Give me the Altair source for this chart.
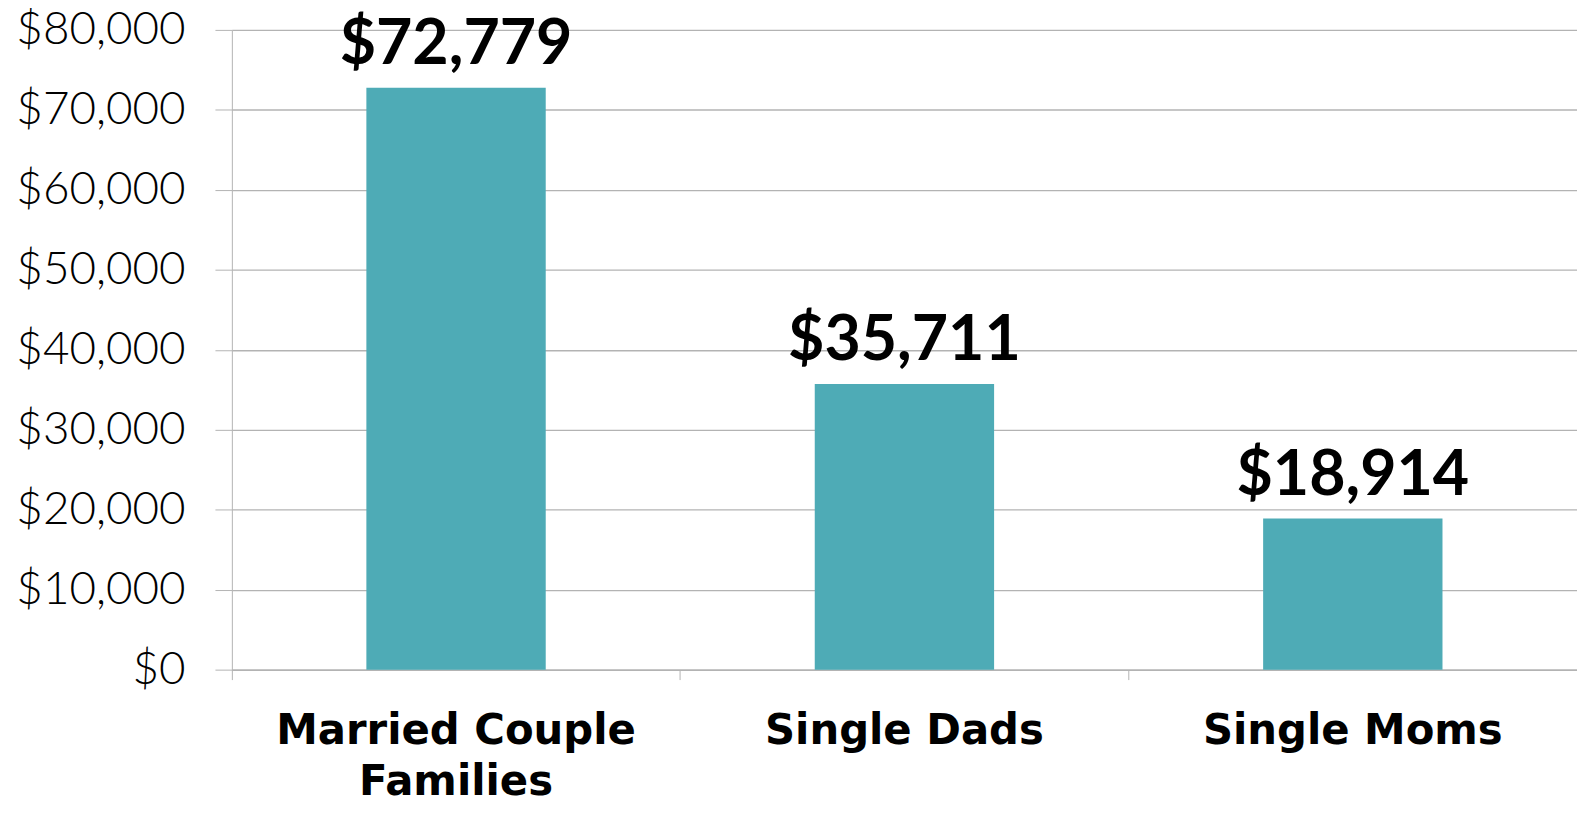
import altair as alt
import pandas as pd

categories = ["Married Couple Families", "Single Dads", "Single Moms"]
values = [72779, 35711, 18914]

df = pd.DataFrame({"cat": categories, "val": values})

GRID = "#b3b3b3"
FONT = "Lato"
CAT_FONT = "DejaVu Sans"

base = alt.Chart(df).encode(
    x=alt.X("cat:N", sort=categories,
            scale=alt.Scale(paddingInner=0.6, paddingOuter=0.3),
            axis=alt.Axis(title=None, labelAngle=0, labelFont=CAT_FONT, labelFontSize=42,
                          labelFontWeight="bold", labelColor="black", labelPadding=31,
                          labelLineHeight=52, labelLimit=0, bandPosition=-0.75,
                          tickSize=10, tickColor=GRID, domainColor=GRID, domainWidth=1.5,
                          labelExpr="datum.label == 'Married Couple Families' ? ['Married Couple', 'Families'] : datum.label")),
    y=alt.Y("val:Q", scale=alt.Scale(domain=[0, 80000]),
            axis=alt.Axis(title=None, values=list(range(0, 80001, 10000)), format="$,.0f",
                          labelFont=FONT, labelFontSize=46, labelFontWeight=300,
                          labelColor="black", labelPadding=30, tickSize=17, labelLimit=0,
                          tickColor=GRID, domainColor=GRID, gridColor=GRID, gridWidth=1.3)),
)

bars = base.mark_bar(color="#4eabb6")
text = base.mark_text(dy=-24, baseline="alphabetic", font=FONT, fontSize=63,
                      fontWeight="bold", color="black").encode(text=alt.Text("val:Q", format="$,.0f"))

chart = (bars + text).properties(
    width=1352, height=643,
    padding={"left": 225, "top": 20, "right": 0, "bottom": 125},
    autosize="none",
).configure_view(stroke=None)

chart.save("out.html", embed_options={"renderer": "svg", "actions": False})
